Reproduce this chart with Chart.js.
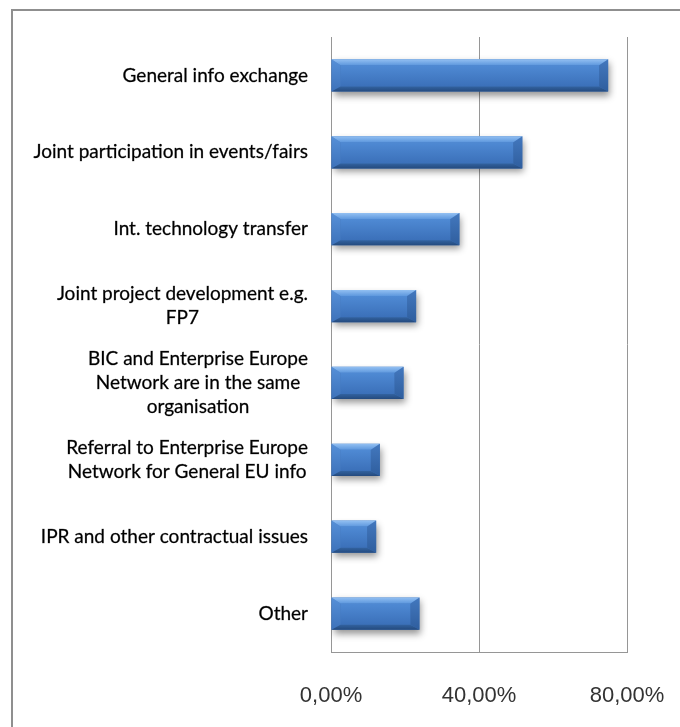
<!DOCTYPE html>
<html>
<head>
<meta charset="utf-8">
<script src="https://cdn.jsdelivr.net/npm/chart.js@4/dist/chart.umd.min.js"></script>
<style>
  html, body { margin: 0; padding: 0; background: #ffffff; }
  #wrap { position: relative; width: 680px; height: 727px; }
  canvas { display: block; }
</style>
</head>
<body>
<div id="wrap"><canvas id="chart" width="680" height="727"></canvas></div>
<script>
// Cooperation types between BICs and the Enterprise Europe Network
const categories = [
  'General info exchange',
  'Joint participation in events/fairs',
  'Int. technology transfer',
  ['Joint project development e.g.', 'FP7'],
  ['BIC and Enterprise Europe', 'Network are in the same', 'organisation'],
  ['Referral to Enterprise Europe', 'Network for General EU info'],
  'IPR and other contractual issues',
  'Other'
];

// Share of respondents, in percent
const shares = [74.9, 51.7, 34.7, 23.0, 19.6, 13.2, 12.2, 23.9];

// Value axis
const axisTicks = [0, 40, 80];
const axisTickLabels = ['0,00%', '40,00%', '80,00%'];

const LABEL_FONT = '19px Lato, "Open Sans", sans-serif';
const LABEL_LINE = 24;

// Grey frame around the whole figure (top and left edges)
const framePlugin = {
  id: 'frame',
  beforeDraw(chart) {
    const ctx = chart.ctx;
    ctx.save();
    ctx.fillStyle = '#ffffff';
    ctx.fillRect(0, 0, chart.width, chart.height);
    ctx.strokeStyle = '#8f8f8f';
    ctx.lineWidth = 2;
    ctx.beginPath();
    ctx.moveTo(12, chart.height);
    ctx.lineTo(12, 10);
    ctx.lineTo(chart.width, 10);
    ctx.stroke();
    ctx.restore();
  }
};

// Soft drop shadow under the bars, then a bevelled face drawn over each bar
const bevelPlugin = {
  id: 'bevel',
  beforeDatasetsDraw(chart) {
    const ctx = chart.ctx;
    ctx.save();
    ctx.shadowColor = 'rgba(0,0,0,0.42)';
    ctx.shadowBlur = 7;
    ctx.shadowOffsetX = 2;
    ctx.shadowOffsetY = 4;
  },
  afterDatasetsDraw(chart) {
    const ctx = chart.ctx;
    ctx.restore();
    const meta = chart.getDatasetMeta(0);
    meta.data.forEach(bar => {
      const p = bar.getProps(['x', 'y', 'base', 'height'], true);
      const L = Math.min(p.x, p.base), R = Math.max(p.x, p.base);
      const T = p.y - p.height / 2, B = p.y + p.height / 2;
      const bw = Math.min(9, (R - L) / 2), bt = 6, bb = 5;
      const poly = (pts, fill) => {
        ctx.beginPath();
        ctx.moveTo(pts[0][0], pts[0][1]);
        for (let i = 1; i < pts.length; i++) ctx.lineTo(pts[i][0], pts[i][1]);
        ctx.closePath();
        ctx.fillStyle = fill;
        ctx.fill();
      };
      const vgrad = (y0, y1, c0, c1) => {
        const g = ctx.createLinearGradient(0, y0, 0, y1);
        g.addColorStop(0, c0);
        g.addColorStop(1, c1);
        return g;
      };
      ctx.save();
      // face
      poly([[L + bw, T + bt], [R - bw, T + bt], [R - bw, B - bb], [L + bw, B - bb]],
        vgrad(T + bt, B - bb, '#4f8ad4', '#3b70b9'));
      // left edge
      poly([[L, T], [L + bw, T + bt], [L + bw, B - bb], [L, B]],
        vgrad(T, B, '#5690d8', '#3d72ba'));
      // right edge
      poly([[R, T], [R, B], [R - bw, B - bb], [R - bw, T + bt]],
        vgrad(T, B, '#4378be', '#2f5e9e'));
      // top edge
      poly([[L, T], [R, T], [R - bw, T + bt], [L + bw, T + bt]],
        vgrad(T, T + bt, '#93c0f2', '#5e98de'));
      // bottom edge
      poly([[L + bw, B - bb], [R - bw, B - bb], [R, B], [L, B]],
        vgrad(B - bb, B, '#32629f', '#244a7e'));
      ctx.restore();
    });
  }
};

// Category labels: each label block is right-aligned to the axis,
// with its lines centred within the block
const categoryLabelPlugin = {
  id: 'categoryLabels',
  afterDraw(chart) {
    const ctx = chart.ctx;
    const yScale = chart.scales.y;
    const right = chart.chartArea.left - 23;
    ctx.save();
    ctx.font = LABEL_FONT;
    ctx.fillStyle = '#000000';
    ctx.strokeStyle = 'rgba(0,0,0,0.55)';
    ctx.lineWidth = 0.45;
    ctx.textAlign = 'center';
    ctx.textBaseline = 'middle';
    categories.forEach((label, i) => {
      const lines = Array.isArray(label) ? label : [label];
      const block = Math.max(...lines.map(s => ctx.measureText(s).width));
      const cx = right - block / 2;
      const cy = yScale.getPixelForTick(i);
      const y0 = cy - (lines.length - 1) * LABEL_LINE / 2;
      lines.forEach((s, k) => {
        ctx.fillText(s, cx, y0 + k * LABEL_LINE);
        ctx.strokeText(s, cx, y0 + k * LABEL_LINE);
      });
    });
    ctx.restore();
  }
};

new Chart(document.getElementById('chart'), {
  type: 'bar',
  data: {
    labels: categories,
    datasets: [{
      data: shares,
      backgroundColor: '#3f74bb',
      borderWidth: 0,
      barPercentage: 0.42,
      categoryPercentage: 1.0
    }]
  },
  options: {
    indexAxis: 'y',
    responsive: false,
    animation: false,
    devicePixelRatio: 1,
    layout: { padding: { left: 0, right: 53, top: 37, bottom: 18 } },
    plugins: {
      legend: { display: false },
      tooltip: { enabled: false }
    },
    scales: {
      x: {
        min: 0,
        max: 80,
        afterBuildTicks(scale) {
          scale.ticks = axisTicks.map(v => ({ value: v }));
        },
        afterFit(scale) {
          scale.height = 57;
          scale.paddingLeft = 0;
          scale.paddingRight = 0;
        },
        grid: { color: '#969696', lineWidth: 1, drawTicks: false },
        border: { display: true, color: '#969696', width: 1 },
        ticks: {
          padding: 31,
          color: '#333333',
          font: { family: '"Liberation Sans", Arial, sans-serif', size: 22 },
          callback(value, index) { return axisTickLabels[index]; }
        }
      },
      y: {
        grid: { display: false },
        border: { display: true, color: '#969696', width: 1 },
        ticks: { display: false },
        afterFit(scale) { scale.width = 331; }
      }
    }
  },
  plugins: [framePlugin, bevelPlugin, categoryLabelPlugin]
});
</script>
</body>
</html>
